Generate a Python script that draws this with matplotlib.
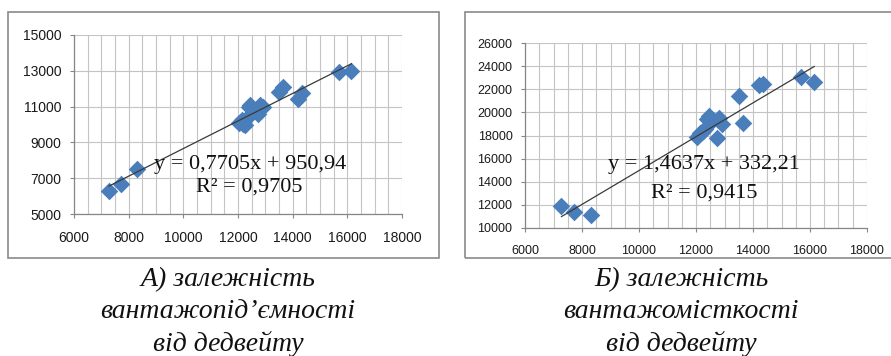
import matplotlib.pyplot as plt
from matplotlib.patches import Rectangle
import numpy as np

# deadweight of the vessels, t (same fleet in both panels)
deadweight = [7280, 7720, 8300, 12050, 12150, 12200, 12250, 12300, 12400, 12450,
              12600, 12750, 12800, 12900, 13500, 13650, 14200, 14350, 15700, 16150]
# cargo capacity, t
capacity = [6300, 6650, 7500, 10100, 10250, 10050, 10000, 10300, 11000, 11100,
            10800, 10600, 11100, 11000, 11800, 12100, 11450, 11750, 12950, 13000]
# cargo volume, m3
volume = [11900, 11400, 11100, 17900, 18200, 18300, 18400, 18600, 19400, 19700,
          19300, 17800, 19500, 19000, 21400, 19100, 22400, 22450, 23100, 22600]

# linear trend coefficients
trend_a = (0.7705, 950.94, 0.9705)
trend_b = (1.4637, 332.21, 0.9415)

captions_a = ["А) залежність", "вантажопід’ємності", "від дедвейту"]
captions_b = ["Б) залежність", "вантажомісткості", "від дедвейту"]

W, H = 891, 356
fig = plt.figure(figsize=(W / 100, H / 100), dpi=100)


def comma(v, nd):
    return f"{v:.{nd}f}".replace(".", ",")


def px_axes(x0, y0, x1, y1):
    return fig.add_axes([x0 / W, 1 - y1 / H, (x1 - x0) / W, (y1 - y0) / H])


def frame(x0, y0, x1, y1):
    fig.add_artist(Rectangle((x0 / W, 1 - y1 / H), (x1 - x0) / W, (y1 - y0) / H,
                             transform=fig.transFigure, fill=False,
                             edgecolor="#8a8a8a", lw=1.2))


def draw_panel(ax, x, y, trend, ylim, ystep, eq_xy, r2_xy, tick_size):
    slope, intercept, r2 = trend
    ax.set_xlim(6000, 18000)
    ax.set_ylim(*ylim)
    ax.set_xticks(np.arange(6000, 18001, 2000))
    ax.set_xticks(np.arange(6000, 18001, 500), minor=True)
    ax.set_yticks(np.arange(ylim[0], ylim[1] + 1, ystep))
    ax.grid(which="both", axis="x", color="#c4c4c4", lw=0.8)
    ax.grid(which="major", axis="y", color="#c4c4c4", lw=0.8)
    ax.set_axisbelow(True)
    for s in ("top", "right"):
        ax.spines[s].set_visible(False)
    for s in ("left", "bottom"):
        ax.spines[s].set_color("#868686")
        ax.spines[s].set_linewidth(0.9)
    ax.tick_params(which="major", length=3, width=0.8, color="#868686",
                   labelsize=tick_size, labelcolor="#1a1a1a")
    ax.tick_params(axis="x", pad=9)
    ax.tick_params(axis="y", pad=6)
    ax.tick_params(which="minor", length=0)
    for lab in ax.get_xticklabels() + ax.get_yticklabels():
        lab.set_fontfamily("Liberation Sans")

    ax.scatter(x, y, marker="D", s=80, color="#4a7ebb", zorder=3, linewidths=0)
    xs = np.array([min(x), max(x)])
    ax.plot(xs, slope * xs + intercept, color="#3a3a3a", lw=0.9, zorder=4)

    eq = f"y = {comma(slope, 4)}x + {comma(intercept, 2)}"
    ax.text(*eq_xy, eq, ha="center", va="center", fontsize=16,
            family="Liberation Serif", color="#111111", zorder=5)
    ax.text(*r2_xy, f"R² = {comma(r2, 4)}", ha="center", va="center", fontsize=16,
            family="Liberation Serif", color="#111111", zorder=5)


# panel A: cargo capacity
frame(8, 12, 439, 258)
ax1 = px_axes(74, 35, 402, 214)
draw_panel(ax1, deadweight, capacity, trend_a, (5000, 15000), 2000,
           (12440, 7740), (12420, 6480), 10)

# panel B: cargo volume
frame(465, 12, 894, 258)
ax2 = px_axes(525, 43, 867, 228)
draw_panel(ax2, deadweight, volume, trend_b, (10000, 26000), 2000,
           (12280, 15450), (12280, 13000), 9)

# captions under the panels
for cx, lines in ((228, captions_a), (681, captions_b)):
    for i, line in enumerate(lines):
        base = 286 + i * 32.5
        fig.text(cx / W, 1 - base / H, line, ha="center", va="baseline",
                 fontsize=20, style="italic", family="Liberation Serif",
                 color="#111111")

fig.savefig("out.png", dpi=100)
